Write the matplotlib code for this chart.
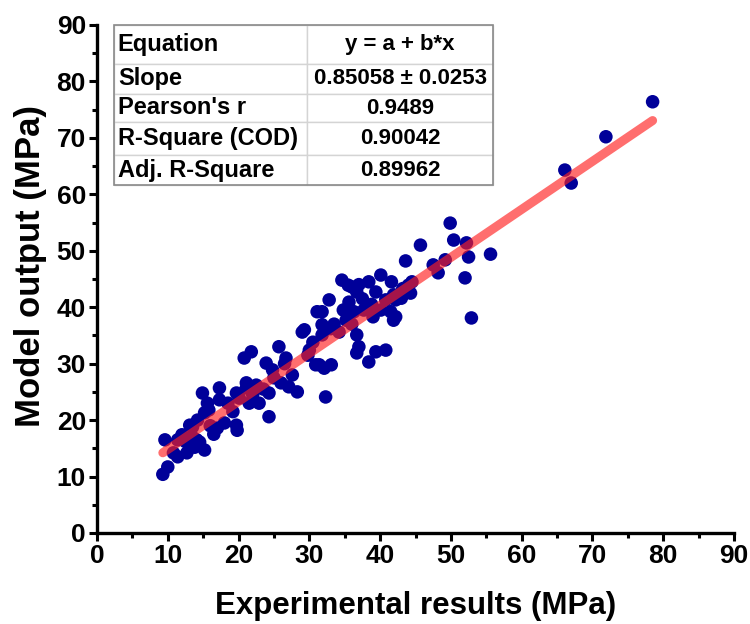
import matplotlib
matplotlib.use("Agg")
import matplotlib.pyplot as plt
from matplotlib.patches import Rectangle
from matplotlib.ticker import MultipleLocator
import numpy as np

plt.rcParams['font.family'] = ['Liberation Sans', 'DejaVu Sans']
plt.rcParams['font.weight'] = 'bold'

# experimental vs model values (MPa)
experimental = [
    9.3, 10.0, 9.6, 11.4, 12.0, 12.7, 13.1, 13.5, 14.2, 14.1, 14.5, 15.2, 14.9, 15.6, 15.2,
    17.3, 17.3, 17.0, 18.0, 19.7, 19.8, 19.7, 13.1, 11.4, 13.5, 13.8, 20.1, 21.1, 22.5, 24.3,
    20.8, 21.8, 21.1, 21.5, 22.9, 24.3, 23.9, 24.8, 25.7, 26.7, 26.0, 27.1, 27.6, 28.3, 29.0,
    29.3, 30.0, 31.1, 31.8, 32.8, 31.8, 31.4, 32.1, 33.1, 32.3, 34.6, 36.0, 36.7, 35.6, 36.7,
    37.0, 36.7, 34.2, 38.4, 40.1, 39.4, 41.6, 44.0, 36.3, 37.7, 40.8, 41.9, 43.0, 40.1, 41.5,
    41.9, 35.2, 31.8, 39.4, 40.8, 38.4, 30.9, 49.9, 50.4, 45.7, 52.2, 52.5, 55.6, 52.0, 52.9,
    43.6, 47.5, 48.2, 49.2, 44.3, 42.2, 42.2, 78.5, 71.9, 66.1, 67.0,
    33.5, 34.8, 37.5, 38.8, 16.0, 15.8, 12.5, 10.8, 22.0, 23.5, 25.0, 30.5, 35.5, 37.0, 43.2,
    39.0, 26.5, 19.2, 18.5, 16.5, 44.5, 33.0, 36.0, 29.8,
]
model = [
    10.4, 11.7, 16.5, 13.5, 17.4, 14.2, 15.9, 18.8, 20.0, 16.5, 16.1, 14.7, 24.8, 23.0, 21.3,
    25.7, 23.6, 18.6, 19.5, 24.8, 18.2, 19.1, 19.1, 16.5, 17.0, 15.2, 23.9, 25.7, 26.2, 20.6,
    31.0, 32.1, 26.6, 23.0, 23.0, 24.8, 30.1, 28.9, 33.0, 31.0, 26.6, 25.9, 28.0, 25.0, 35.6,
    36.0, 32.4, 39.2, 39.2, 41.3, 36.9, 29.8, 29.2, 29.8, 24.1, 44.8, 43.6, 42.7, 40.9, 35.1,
    33.0, 31.9, 35.6, 44.5, 45.7, 42.7, 44.5, 43.9, 39.2, 39.5, 41.3, 42.2, 41.6, 39.5, 39.2,
    37.7, 37.7, 35.1, 32.1, 32.4, 30.3, 29.8, 54.9, 51.9, 51.0, 51.4, 48.9, 49.4, 45.2, 38.1,
    48.2, 47.5, 46.1, 48.4, 42.5, 41.3, 38.3, 76.4, 70.2, 64.3, 62.0,
    37.0, 39.5, 41.5, 40.5, 19.0, 21.8, 16.2, 14.2, 24.5, 25.5, 27.5, 33.8, 43.9, 44.0, 43.3,
    38.3, 30.0, 21.5, 23.0, 17.5, 44.5, 36.2, 37.0, 31.5,
]

# linear fit y = a + b*x
intercept = 6.3
slope = 0.85058

row_labels = ["Equation", "Slope", "Pearson's r", "R-Square (COD)", "Adj. R-Square"]
row_values = ["y = a + b*x", "0.85058 \u00b1 0.0253", "0.9489", "0.90042", "0.89962"]

fig = plt.figure(figsize=(7.5, 6.24), dpi=100)
ax = fig.add_axes([97 / 750, 91 / 624, 637 / 750, 508 / 624])

ax.scatter(experimental, model, s=95, color='#000099', edgecolors='none', zorder=2)

xfit = np.array([min(experimental), max(experimental)])
ax.plot(xfit, intercept + slope * xfit, color='#ff2020', alpha=0.65, lw=6.5,
        solid_capstyle='round', zorder=3)

ax.set_xlim(0, 90)
ax.set_ylim(0, 90)
ax.xaxis.set_major_locator(MultipleLocator(10))
ax.yaxis.set_major_locator(MultipleLocator(10))
ax.xaxis.set_minor_locator(MultipleLocator(5))
ax.yaxis.set_minor_locator(MultipleLocator(5))
ax.tick_params(which='major', direction='out', length=6, width=2.2, labelsize=19, pad=2)
ax.tick_params(which='minor', direction='out', length=3.5, width=2.2)
for lab in ax.get_xticklabels() + ax.get_yticklabels():
    lab.set_fontweight('bold')
for side in ['top', 'right']:
    ax.spines[side].set_visible(False)
for side in ['left', 'bottom']:
    ax.spines[side].set_linewidth(2.4)

ax.set_xlabel("Experimental results (MPa)", fontsize=22.5, fontweight='bold')
ax.set_ylabel("Model output (MPa)", fontsize=25, fontweight='bold')
ax.xaxis.set_label_coords(0.5, -0.115)
ax.yaxis.set_label_coords(-0.078, 0.525)

# stats table in the top left corner
x0, x1 = (114 - 97) / 637, (493 - 97) / 637
y0, y1 = (533 - 185) / 508, (533 - 25) / 508
tbl = ax.table(cellText=[[a, b] for a, b in zip(row_labels, row_values)],
               cellLoc='center', bbox=[x0, y0, x1 - x0, y1 - y0], zorder=4)
tbl.auto_set_font_size(False)
heights = [39, 30, 28, 33, 30]
widths = [193, 186]
for (r, c), cell in tbl.get_celld().items():
    cell.set_height(heights[r])
    cell.set_width(widths[c])
    cell.set_edgecolor('#d4d4d4')
    cell.set_linewidth(1)
    cell.set_facecolor('white')
    txt = cell.get_text()
    txt.set_fontweight('bold')
    if c == 0:
        cell._loc = 'left'
        cell.PAD = 0.02
        txt.set_horizontalalignment('left')
        txt.set_fontsize(17)
    else:
        txt.set_fontsize(16)
ax.add_patch(Rectangle((x0, y0), x1 - x0, y1 - y0, transform=ax.transAxes, fill=False,
                       edgecolor='#8a8a8a', lw=1.2, zorder=5, clip_on=False))

fig.savefig("out.png", dpi=100)
